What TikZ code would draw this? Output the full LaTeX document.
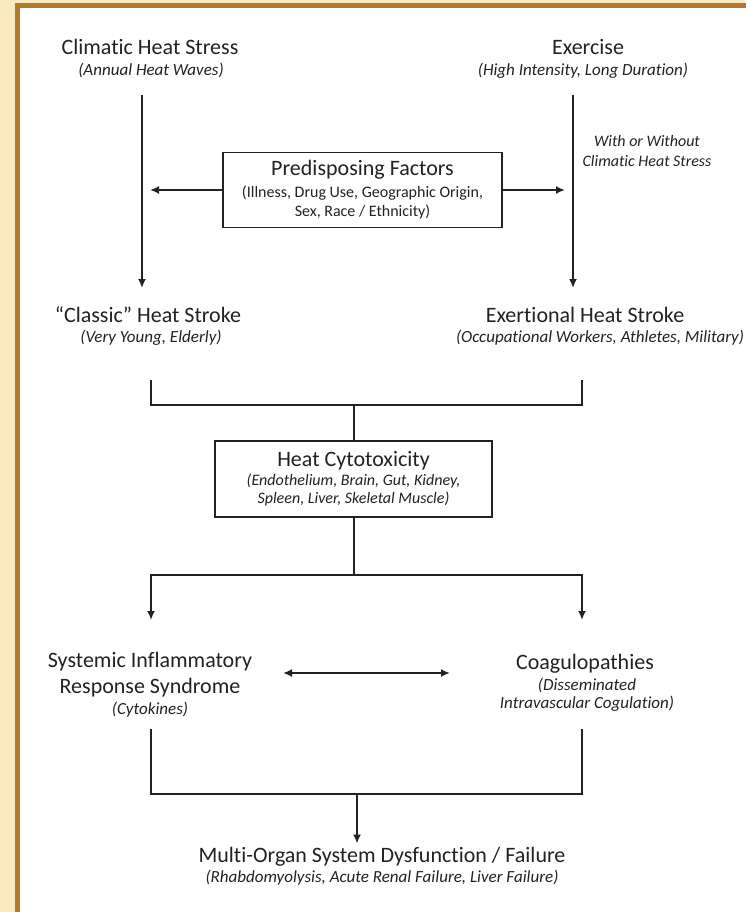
\documentclass[tikz,border=0pt]{standalone}
\usepackage{fontspec}
\setmainfont{Carlito}[Ligatures={TeX,NoCommon}]
\usetikzlibrary{arrows.meta}
\definecolor{cream}{HTML}{FAEAC0}
\definecolor{frame}{HTML}{B27A2C}
\definecolor{ink}{HTML}{222222}
\tikzset{
  head/.style={font=\fontsize{22}{26}\selectfont, text=ink, anchor=base, inner sep=0pt, align=center},
  note/.style={font=\fontsize{17}{19}\selectfont\itshape, text=ink, anchor=base, inner sep=0pt, align=center},
  box/.style={draw=ink, line width=1.5pt, fill=white, align=center, inner sep=0pt, text=ink},
  bar/.style={line width=2pt, draw=ink},
  link/.style={bar, -{Latex[length=9pt,width=8pt]}},
  twoway/.style={bar, {Latex[length=9pt,width=8pt]}-{Latex[length=9pt,width=8pt]}},
}

\begin{document}
\begin{tikzpicture}[x=1pt, y=-1pt]
\useasboundingbox (0,0) rectangle (745,912);
% frame
\fill[cream] (0,0) rectangle (745,912);
\filldraw[fill=white, draw=frame, line width=5pt] (17.5,5.5) rectangle (780,940);

% causes (multi-line nodes sit on their last baseline)
\node[head] (climatic) at (150,55) {Climatic Heat Stress};
\node[note] (climaticsub) at (151,76) {(Annual Heat Waves)};
\node[head] (exercise) at (588,55) {Exercise};
\node[note] (exercisesub) at (583,76) {(High Intensity, Long Duration)};
\node[note, font=\fontsize{16}{20}\selectfont\itshape] (without) at (647,167) {With or Without\\Climatic Heat Stress};

\node[box, minimum width=279pt, minimum height=75pt, font=\fontsize{16}{19}\selectfont] (pre) at (362.5,190)
  {{\fontsize{22}{26}\selectfont Predisposing Factors}\\[3pt]
   (Illness, Drug Use, Geographic Origin,\\ Sex, Race / Ethnicity)};

% heat stroke
\node[head] (classic) at (148,322) {“Classic” Heat Stroke};
\node[note] (classicsub) at (151,342) {(Very Young, Elderly)};
\node[head] (exertional) at (585,322) {Exertional Heat Stroke};
\node[note] (exertionalsub) at (600,342) {(Occupational Workers, Athletes, Military)};

\node[box, minimum width=277pt, minimum height=76pt, font=\fontsize{16}{18}\selectfont\itshape] (cyto) at (353.5,479)
  {{\fontsize{22}{26}\selectfont\upshape Heat Cytotoxicity}\\[1pt]
   (Endothelium, Brain, Gut, Kidney,\\ Spleen, Liver, Skeletal Muscle)};

% responses
\node[head] (sirs) at (150,693) {Systemic Inflammatory\\Response Syndrome};
\node[note] (sirssub) at (150,714) {(Cytokines)};
\node[head] (coag) at (585,669) {Coagulopathies};
\node[note, font=\fontsize{17}{18}\selectfont\itshape] (coagsub) at (587,708) {(Disseminated\\Intravascular Cogulation)};

\node[head] (multi) at (382,862) {Multi-Organ System Dysfunction / Failure};
\node[note] (multisub) at (382,882) {(Rhabdomyolysis, Acute Renal Failure, Liver Failure)};

% connectors
\coordinate (lt) at (142,95);
\coordinate (lb) at (142,288);
\coordinate (rt) at (573,95);
\coordinate (rb) at (573,288);
\draw[link] (lt) -- (lb);
\draw[link] (rt) -- (rb);
\draw[link, shorten >=8pt] (pre.west) -- (pre.west -| lt);
\draw[link, shorten >=8pt] (pre.east) -- (pre.east -| rt);

\coordinate (b1l) at (151,380);
\coordinate (b1r) at (582,380);
\coordinate (j1) at (cyto.north |- 0,405);
\draw[bar] (b1l) |- (b1r |- j1) -- (b1r);
\draw[bar] (j1) -- (cyto.north);

\coordinate (j2) at (cyto.south |- 0,575);
\coordinate (a2l) at (151,620);
\coordinate (a2r) at (582,620);
\draw[bar] (cyto.south) -- (j2);
\draw[link] (j2) -| (a2l);
\draw[link] (j2) -| (a2r);

\coordinate (dl) at (283,673);
\coordinate (dr) at (450,673);
\draw[twoway] (dl) -- (dr);

\coordinate (b2l) at (151,729);
\coordinate (b2r) at (582,729);
\coordinate (j3) at (357,794);
\draw[bar] (b2l) |- (b2r |- j3) -- (b2r);
\draw[link, shorten >=3pt] (j3) -- (j3 |- multi.north);
\end{tikzpicture}
\end{document}
